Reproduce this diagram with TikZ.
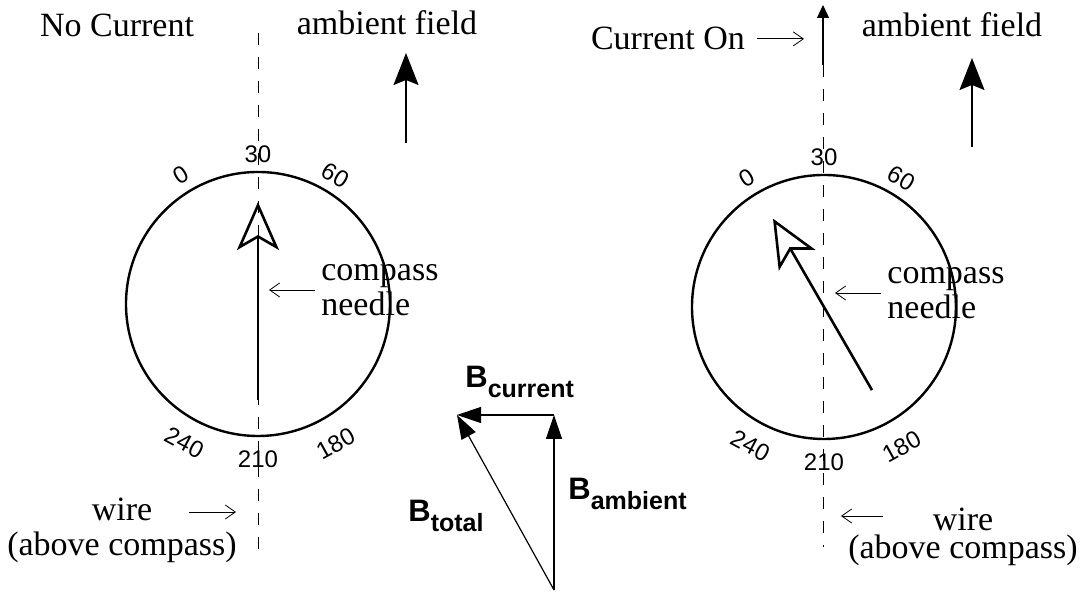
\documentclass[tikz,border=0pt]{standalone}
\usepackage{fontspec}
\setmainfont{Liberation Serif}
\setsansfont{Liberation Sans}
\usetikzlibrary{arrows.meta}

\newcommand{\Bsub}[1]{{\fontsize{15.5}{15.5}\selectfont B}\raisebox{-5pt}{#1}}

\tikzset{
  dial/.style={circle, draw, line width=1.2pt, minimum size=132pt, inner sep=0pt},
  wireline/.style={dash pattern=on 6pt off 6pt, line width=0.5pt},
  tick/.style={font=\sffamily\fontsize{12}{12}\selectfont, inner sep=0pt},
  caption/.style={font=\fontsize{17}{17.5}\selectfont, inner sep=0pt},
  pointer/.style={line width=0.4pt, -{Straight Barb[length=5pt,width=7pt]}},
  needle/.style={line width=1.3pt, -{Stealth[open,length=24pt,width=21pt,inset=6pt]}},
  field/.style={line width=0.8pt, -{Stealth[length=16pt,width=12.5pt,inset=2.5pt]}},
  vec/.style={line width=0.6pt, -{Triangle[length=12pt,width=8pt]}},
  vlabel/.style={font=\sffamily\bfseries\fontsize{12.5}{12.5}\selectfont, inner sep=0pt, anchor=base west}
}

\begin{document}
\begin{tikzpicture}[x=0.5pt,y=0.5pt]
\useasboundingbox (0,0) rectangle (1083,592);

% left compass, no current
\node[caption, anchor=base] (noCur) at (117,555) {No Current};
\node[caption, anchor=base] (ambL) at (387,557) {ambient field};
\coordinate (fieldLa) at (406,449);
\coordinate (fieldLb) at (406,539);
\draw[field] (fieldLa) -- (fieldLb);

\node[dial] (dialL) at (258,288) {};
\coordinate (wireLtop) at (258,559);
\coordinate (wireLbot) at (258,42);
\draw[wireline] (wireLtop) -- (wireLbot);

\begin{scope}[shift={(dialL.center)}]
  \node[tick] (tL30) at (90:150) {30};
  \node[tick, rotate=31] (tL0) at (121:150) {0};
  \node[tick, rotate=-31] (tL60) at (59:150) {60};
  \node[tick, rotate=-28] (tL240) at (-118:157) {240};
  \node[tick] (tL210) at (-90:155) {210};
  \node[tick, rotate=29] (tL180) at (-61:160) {180};
  \coordinate (tailL) at (-90:96);
  \coordinate (tipL) at (90:102);
\end{scope}
\draw[needle] (tailL) -- (tipL);

\node[caption, align=left, anchor=west] (needleL) at (321,302) {compass\\needle};
\coordinate (needleLpt) at (269,301);
\draw[pointer] ([xshift=-3pt]needleL.west) -- (needleLpt |- needleL.west);

\node[caption, align=center] (wireL) at (122,62) {wire\\(above compass)};
\coordinate (wireLa) at (189,80);
\coordinate (wireLb) at (236,80);
\draw[pointer] (wireLa) -- (wireLb);

% right compass, current on
\node[caption, anchor=base] (curOn) at (668,542) {Current On};
\node[caption, anchor=base] (ambR) at (952,555) {ambient field};
\coordinate (fieldRa) at (972,445);
\coordinate (fieldRb) at (972,534);
\draw[field] (fieldRa) -- (fieldRb);

\node[dial] (dialR) at (824,285) {};
\coordinate (wireRtop) at (823,527);
\coordinate (wireRbot) at (823,45);
\coordinate (curTip) at (823,587);
\draw[wireline] (wireRtop) -- (wireRbot);
\draw[line width=0.6pt, -{Triangle[length=6.5pt,width=6pt]}] (wireRtop) -- (curTip);
\coordinate (curOnPt) at (804,554);
\draw[pointer] ([xshift=6pt]curOn.east) -- (curOnPt |- curOn.east);

\begin{scope}[shift={(dialR.center)}]
  \node[tick] (tR30) at (90:150) {30};
  \node[tick, rotate=31] (tR0) at (121:150) {0};
  \node[tick, rotate=-31] (tR60) at (59:150) {60};
  \node[tick, rotate=-28] (tR240) at (-118:157) {240};
  \node[tick] (tR210) at (-90:155) {210};
  \node[tick, rotate=29] (tR180) at (-61:160) {180};
  \coordinate (tailR) at (-60:96);
  \coordinate (tipR) at (120:102);
\end{scope}
\draw[needle] (tailR) -- (tipR);

\node[caption, align=left, anchor=west] (needleR) at (887,299) {compass\\needle};
\coordinate (needleRpt) at (835,297);
\draw[pointer] ([xshift=-3pt]needleR.west) -- (needleRpt |- needleR.west);

\node[caption, align=center] (wireR) at (963,55) {wire\\[-3.5pt](above compass)};
\coordinate (wireRa) at (883,76);
\coordinate (wireRb) at (841,76);
\draw[pointer] (wireRa) -- (wireRb);

% vector sum
\coordinate (origin) at (554,2);
\coordinate (ambTip) at (554,177);
\coordinate (totTip) at (457,177);
\draw[vec] (origin) -- (ambTip);
\draw[vec] (ambTip) -- (totTip);
\draw[vec] (origin) -- (totTip);
\node[vlabel] (bCur) at (465,204) {\Bsub{current}};
\node[vlabel] (bAmb) at (568,92) {\Bsub{ambient}};
\node[vlabel] (bTot) at (408,70) {\Bsub{total}};
\end{tikzpicture}
\end{document}
